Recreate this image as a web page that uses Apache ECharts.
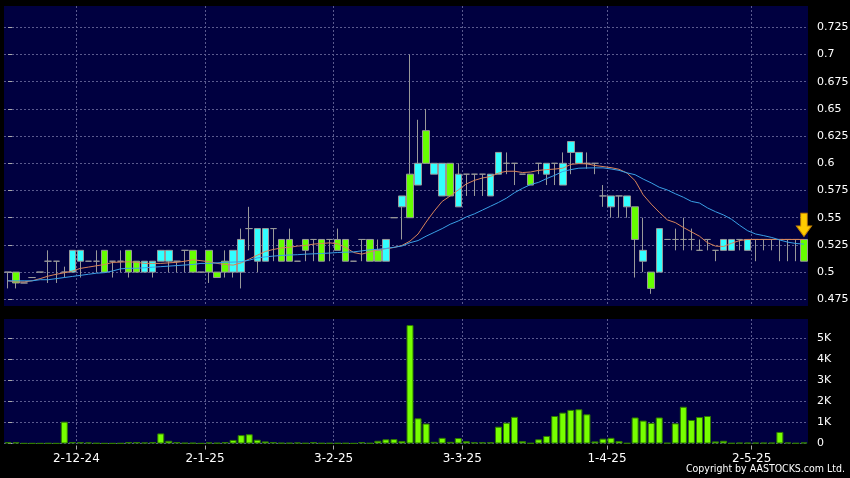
<!DOCTYPE html>
<html>
<head>
<meta charset="utf-8">
<script src="https://cdn.jsdelivr.net/npm/echarts@6/dist/echarts.min.js"></script>
<style>
html,body{margin:0;padding:0;background:#000;}
#c{width:850px;height:478px;}
</style>
</head>
<body>
<div id="c"></div>
<script>
// ---- data ----
const categories = Array.from({length: 100}, (_, i) => 'D' + (i + 1));

const opens = [
  0.50,0.50,0.49,0.495,0.50,0.51,0.51,0.50,0.50,0.51,
  0.51,0.51,0.52,0.51,0.51,0.52,0.51,0.50,0.50,0.51,
  0.51,0.51,0.52,0.52,0.50,0.52,0.50,0.51,0.50,0.50,
  0.54,0.51,0.51,0.54,0.53,0.53,0.51,0.53,0.53,0.53,
  0.53,0.53,0.53,0.51,0.53,0.53,0.52,0.51,0.55,0.56,
  0.59,0.58,0.63,0.59,0.57,0.60,0.56,0.59,0.59,0.59,
  0.57,0.59,0.60,0.60,0.59,0.59,0.60,0.59,0.60,0.58,
  0.61,0.60,0.60,0.60,0.57,0.56,0.57,0.56,0.56,0.51,
  0.50,0.50,0.53,0.53,0.53,0.53,0.52,0.53,0.52,0.52,
  0.52,0.53,0.52,0.53,0.53,0.53,0.53,0.53,0.53,0.53
];
const closes = [
  0.50,0.49,0.49,0.495,0.50,0.51,0.51,0.50,0.52,0.52,
  0.51,0.51,0.50,0.51,0.51,0.50,0.50,0.51,0.51,0.52,
  0.52,0.51,0.52,0.50,0.50,0.50,0.495,0.50,0.52,0.53,
  0.54,0.54,0.54,0.54,0.51,0.51,0.51,0.52,0.53,0.51,
  0.53,0.52,0.51,0.51,0.53,0.51,0.51,0.53,0.55,0.57,
  0.55,0.60,0.60,0.60,0.60,0.57,0.59,0.59,0.59,0.59,
  0.59,0.61,0.60,0.60,0.59,0.58,0.60,0.60,0.60,0.60,
  0.62,0.61,0.60,0.60,0.57,0.57,0.57,0.57,0.53,0.52,
  0.485,0.54,0.53,0.53,0.53,0.53,0.52,0.53,0.52,0.53,
  0.53,0.53,0.53,0.53,0.53,0.53,0.53,0.53,0.53,0.51
];
const lows = [
  0.485,0.485,0.49,0.495,0.50,0.49,0.49,0.495,0.50,0.495,
  0.51,0.50,0.50,0.495,0.50,0.495,0.50,0.50,0.495,0.51,
  0.50,0.50,0.50,0.50,0.50,0.49,0.495,0.495,0.495,0.485,
  0.52,0.50,0.51,0.51,0.51,0.51,0.51,0.51,0.51,0.51,
  0.51,0.52,0.51,0.51,0.51,0.51,0.51,0.51,0.55,0.53,
  0.55,0.58,0.60,0.59,0.57,0.57,0.56,0.57,0.57,0.57,
  0.57,0.59,0.59,0.58,0.59,0.58,0.59,0.58,0.58,0.58,
  0.59,0.60,0.595,0.59,0.56,0.55,0.55,0.55,0.495,0.50,
  0.48,0.50,0.53,0.52,0.52,0.52,0.52,0.52,0.51,0.52,
  0.52,0.52,0.52,0.51,0.52,0.52,0.51,0.51,0.51,0.51
];
const highs = [
  0.50,0.50,0.49,0.495,0.50,0.52,0.51,0.505,0.52,0.52,
  0.51,0.52,0.52,0.51,0.52,0.52,0.51,0.51,0.51,0.52,
  0.52,0.51,0.52,0.52,0.50,0.52,0.50,0.52,0.52,0.54,
  0.56,0.54,0.54,0.54,0.53,0.54,0.51,0.53,0.53,0.53,
  0.53,0.54,0.53,0.51,0.53,0.53,0.53,0.53,0.55,0.57,
  0.70,0.64,0.65,0.60,0.60,0.60,0.60,0.59,0.59,0.59,
  0.59,0.61,0.61,0.60,0.59,0.59,0.60,0.60,0.60,0.61,
  0.62,0.61,0.61,0.60,0.58,0.57,0.57,0.57,0.56,0.55,
  0.50,0.54,0.53,0.54,0.55,0.54,0.53,0.53,0.52,0.53,
  0.53,0.53,0.53,0.53,0.53,0.53,0.53,0.53,0.53,0.53
];
const volumes = [
  70,60,10,10,10,15,10,1040,70,60,
  50,20,10,10,15,70,70,50,70,480,
  130,70,30,30,10,50,30,70,170,400,
  440,180,100,70,30,30,50,20,70,20,
  20,20,20,10,70,20,130,200,210,120,
  5640,1200,950,80,270,80,260,110,60,60,
  60,800,990,1270,110,20,200,360,1310,1470,
  1600,1630,1390,100,230,270,120,20,1240,1090,
  980,1240,30,960,1750,1120,1260,1310,100,130,
  20,40,40,40,40,40,550,50,20,50
];
const maShort = [
  0.492,0.491,0.491,0.492,0.494,0.4963,0.498,0.4994,0.501,0.5034,
  0.5046,0.5058,0.507,0.5089,0.5092,0.5095,0.509,0.508,0.508,0.508,
  0.5085,0.509,0.510,0.5113,0.5105,0.5095,0.508,0.507,0.5064,0.5085,
  0.512,0.5155,0.519,0.5208,0.5222,0.5228,0.5239,0.5245,0.5257,0.5263,
  0.5269,0.526,0.5225,0.518,0.5165,0.5186,0.5205,0.5215,0.5226,0.5245,
  0.5285,0.535,0.546,0.556,0.565,0.570,0.5755,0.581,0.5843,0.5865,
  0.5878,0.591,0.5927,0.5927,0.5915,0.592,0.5935,0.5942,0.5947,0.5955,
  0.599,0.5997,0.5995,0.598,0.597,0.596,0.5945,0.591,0.584,0.571,
  0.5625,0.555,0.548,0.5455,0.541,0.537,0.533,0.527,0.5239,0.5235,
  0.5265,0.529,0.530,0.530,0.530,0.530,0.530,0.530,0.530,0.530
];
const maLong = [
  0.492,0.492,0.492,0.492,0.493,0.493,0.494,0.495,0.496,0.497,
  0.498,0.499,0.4995,0.501,0.503,0.5035,0.5035,0.504,0.5045,0.505,
  0.5055,0.506,0.5065,0.507,0.508,0.508,0.5085,0.509,0.5092,0.5095,
  0.511,0.513,0.514,0.5147,0.5153,0.5157,0.516,0.5165,0.5168,0.5171,
  0.5175,0.518,0.5183,0.5186,0.5195,0.5205,0.521,0.5217,0.5228,0.524,
  0.527,0.529,0.533,0.5365,0.540,0.544,0.547,0.5507,0.5535,0.557,
  0.5605,0.564,0.568,0.573,0.577,0.5805,0.5825,0.586,0.589,0.5925,
  0.5942,0.5955,0.5957,0.5958,0.5958,0.5948,0.5935,0.5912,0.5895,0.5855,
  0.582,0.578,0.5755,0.572,0.5688,0.565,0.5635,0.559,0.5555,0.5525,
  0.5485,0.543,0.538,0.535,0.5335,0.5318,0.5295,0.5275,0.5263,0.5257
];
const priceTicks = [0.475,0.5,0.525,0.55,0.575,0.6,0.625,0.65,0.675,0.7,0.725];
const volTicks = [0,1000,2000,3000,4000,5000];
const volTickLabels = ['0','1K','2K','3K','4K','5K'];
const dateTickPos = [8.5,24.5,40.5,56.5,74.5,92.5];
const dateTickLabels = ['2-12-24','2-1-25','3-2-25','3-3-25','1-4-25','2-5-25'];

// ---- chart ----
const chart = echarts.init(document.getElementById('c'), null, {renderer: 'canvas'});
const navy = '#000040';
const gridLine = {show: true, lineStyle: {color: '#5a5a8e', type: [2, 2], width: 1}};
const labelFont = {color: '#ffffff', fontFamily: 'DejaVu Sans', fontSize: 11};

const candleData = opens.map((o, i) => [o, closes[i], lows[i], highs[i]]);

chart.setOption({
  animation: false,
  backgroundColor: '#000000',
  grid: [
    {left: 4, top: 6, width: 804, height: 300, show: true, backgroundColor: navy, borderWidth: 0, containLabel: false, outerBoundsMode: 'none'},
    {left: 4, top: 319, width: 804, height: 124.5, show: true, backgroundColor: navy, borderWidth: 0, containLabel: false, outerBoundsMode: 'none'}
  ],
  xAxis: [
    {type: 'category', gridIndex: 0, position: 'bottom', data: categories, boundaryGap: true, show: false},
    {type: 'value', gridIndex: 0, position: 'bottom', min: -0.5, max: 99.5, axisLine: {show: false},
     axisTick: {show: false, customValues: dateTickPos}, axisLabel: {show: false, customValues: dateTickPos},
     splitLine: gridLine},
    {type: 'category', gridIndex: 1, position: 'bottom', data: categories, boundaryGap: true, show: false},
    {type: 'value', gridIndex: 1, position: 'bottom', min: -0.5, max: 99.5, offset: 2,
     axisLine: {show: false},
     axisTick: {show: true, length: 4, customValues: dateTickPos, lineStyle: {color: '#aaaaaa'}},
     axisLabel: Object.assign({}, labelFont, {customValues: dateTickPos, margin: 7, fontSize: 12,
       formatter: v => { const k = dateTickPos.indexOf(v); return k >= 0 ? dateTickLabels[k] : ''; }}),
     splitLine: gridLine}
  ],
  yAxis: [
    {type: 'value', gridIndex: 0, position: 'right', min: 0.46884, max: 0.74458, offset: 3,
     axisLine: {show: false},
     axisTick: {show: true, length: 4, customValues: priceTicks, lineStyle: {color: '#aaaaaa'}},
     axisLabel: Object.assign({}, labelFont, {customValues: priceTicks, margin: 6}),
     splitLine: gridLine},
    {type: 'value', gridIndex: 1, position: 'right', min: 0, max: 5929, offset: 3,
     axisLine: {show: false},
     axisTick: {show: true, length: 4, customValues: volTicks, lineStyle: {color: '#aaaaaa'}},
     axisLabel: Object.assign({}, labelFont, {customValues: volTicks, margin: 6,
       formatter: v => volTickLabels[volTicks.indexOf(v)]}),
     splitLine: gridLine}
  ],
  series: [
    {
      type: 'candlestick', name: 'Price', xAxisIndex: 0, yAxisIndex: 0,
      data: candleData, barWidth: 7,
      itemStyle: {color: '#33ffff', color0: '#66ff00', borderColor: '#999999', borderColor0: '#999999', borderColorDoji: '#999999', borderWidth: 1},
      markPoint: {
        symbol: 'path://M4,0 L10,0 L10,12 L14,12 L7,22 L0,12 L4,12 Z',
        symbolSize: [15, 23],
        symbolOffset: [0, -14.5],
        itemStyle: {color: '#ffcc00', borderColor: '#cc8800', borderWidth: 1},
        label: {show: false},
        data: [{coord: [categories[99], highs[99]]}]
      }
    },
    {type: 'line', name: 'MA short', xAxisIndex: 0, yAxisIndex: 0, data: maShort, symbol: 'none',
     lineStyle: {color: '#d8845a', width: 1}, z: 3},
    {type: 'line', name: 'MA long', xAxisIndex: 0, yAxisIndex: 0, data: maLong, symbol: 'none',
     lineStyle: {color: '#3aa0e6', width: 1}, z: 3},
    {type: 'bar', name: 'Volume', xAxisIndex: 2, yAxisIndex: 1, data: volumes, barWidth: 7,
     itemStyle: {color: '#77ff00', borderColor: '#2f7a00', borderWidth: 1}}
  ],
  graphic: [
    {type: 'text', right: 5, top: 464,
     style: {text: 'Copyright by AASTOCKS.com Ltd.', fill: '#ffffff', font: '10.5px "DejaVu Sans Condensed", "Liberation Sans", sans-serif'}}
  ]
});
</script>
</body>
</html>
